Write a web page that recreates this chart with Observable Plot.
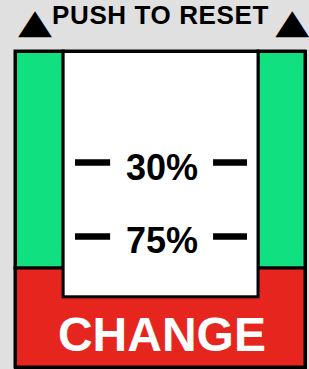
<!DOCTYPE html>
<html>
<head>
<meta charset="utf-8">
<script src="https://cdn.jsdelivr.net/npm/d3@7"></script>
<script src="https://cdn.jsdelivr.net/npm/@observablehq/plot@0.6"></script>
<style>
  html, body { margin: 0; padding: 0; background: #e0e0e0; }
  #wrap { width: 309px; height: 369px; overflow: hidden; }
  #title { position: relative; height: 44px; color: #000; white-space: nowrap; }
  #title .txt { position: absolute; left: 0; width: 321px; top: 0; line-height: 43px; text-align: center; font: bold 26px "Liberation Sans", Arial, sans-serif; letter-spacing: 0.6px; }
  #title .tri { position: absolute; top: 4px; font: 34px "DejaVu Sans", sans-serif; line-height: 34px; }
  #title .tri.l { left: 18px; transform: scaleX(1.3); transform-origin: 0 0; }
  #title .tri.r { right: 0; transform: scaleX(1.3); transform-origin: 100% 0; }
</style>
</head>
<body>
<div id="wrap">
  <div id="title"><span class="tri l">▲</span><span class="txt">PUSH TO RESET</span><span class="tri r">▲</span></div>
  <div id="chart"></div>
</div>
<script>
// Gauge levels (in %): the box runs from the top level to the bottom level
const gaugeLevels = [-37.5, 154.7];
// Zones of the indicator
const zoneKind = ["ok", "ok", "change", "window"];
const zoneX1 = [0, 83.8, 0, 16.6];
const zoneX2 = [16.6, 100, 100, 83.8];
const zoneY1 = [-37.5, -37.5, 94.5, -37.5];
const zoneY2 = [94.5, 94.5, 154.7, 112];
// Threshold markers
const markerLabels = ["30%", "75%"];
const markerLevels = [30, 75];
// Action label
const actionLabel = ["CHANGE"];

const zones = zoneKind.map((k, i) => ({kind: k, x1: zoneX1[i], x2: zoneX2[i], y1: zoneY1[i], y2: zoneY2[i]}));
const markers = markerLabels.map((l, i) => ({label: l, level: markerLevels[i]}));
const change = zones.find(d => d.kind === "change");
const win = zones.find(d => d.kind === "window");
const actions = actionLabel.map(l => ({label: l, level: (win.y2 + change.y2) / 2}));

const font = '"Liberation Sans", Arial, sans-serif';

const chart = Plot.plot({
  width: 309,
  height: 325,
  marginLeft: 15,
  marginRight: 4,
  marginTop: 7,
  marginBottom: 2,
  style: {background: "transparent", overflow: "visible", fontFamily: font},
  x: {domain: [0, 100], axis: null},
  y: {domain: gaugeLevels, reverse: true, axis: null},
  color: {domain: ["ok", "change", "window"], range: ["#10e080", "#e6261e", "#ffffff"]},
  marks: [
    Plot.rect(zones, {x1: "x1", x2: "x2", y1: "y1", y2: "y2", fill: "kind", stroke: "#000", strokeWidth: 3}),
    Plot.ruleY(markers, {y: "level", x1: 20.7, x2: 32.8, stroke: "#000", strokeWidth: 6.5}),
    Plot.ruleY(markers, {y: "level", x1: 68.3, x2: 80.0, stroke: "#000", strokeWidth: 6.5}),
    Plot.text(markers, {y: "level", x: 50.5, text: "label", fontSize: 36, fontWeight: "bold", fill: "#000", dy: 5.5, fontFamily: font}),
    Plot.text(actions, {y: "level", x: 50.5, text: "label", fontSize: 48, fontWeight: "bold", fill: "#fff", dy: 3, fontFamily: font}),
    Plot.frame({stroke: "#000", strokeWidth: 3})
  ]
});
document.getElementById("chart").appendChild(chart);
</script>
</body>
</html>
